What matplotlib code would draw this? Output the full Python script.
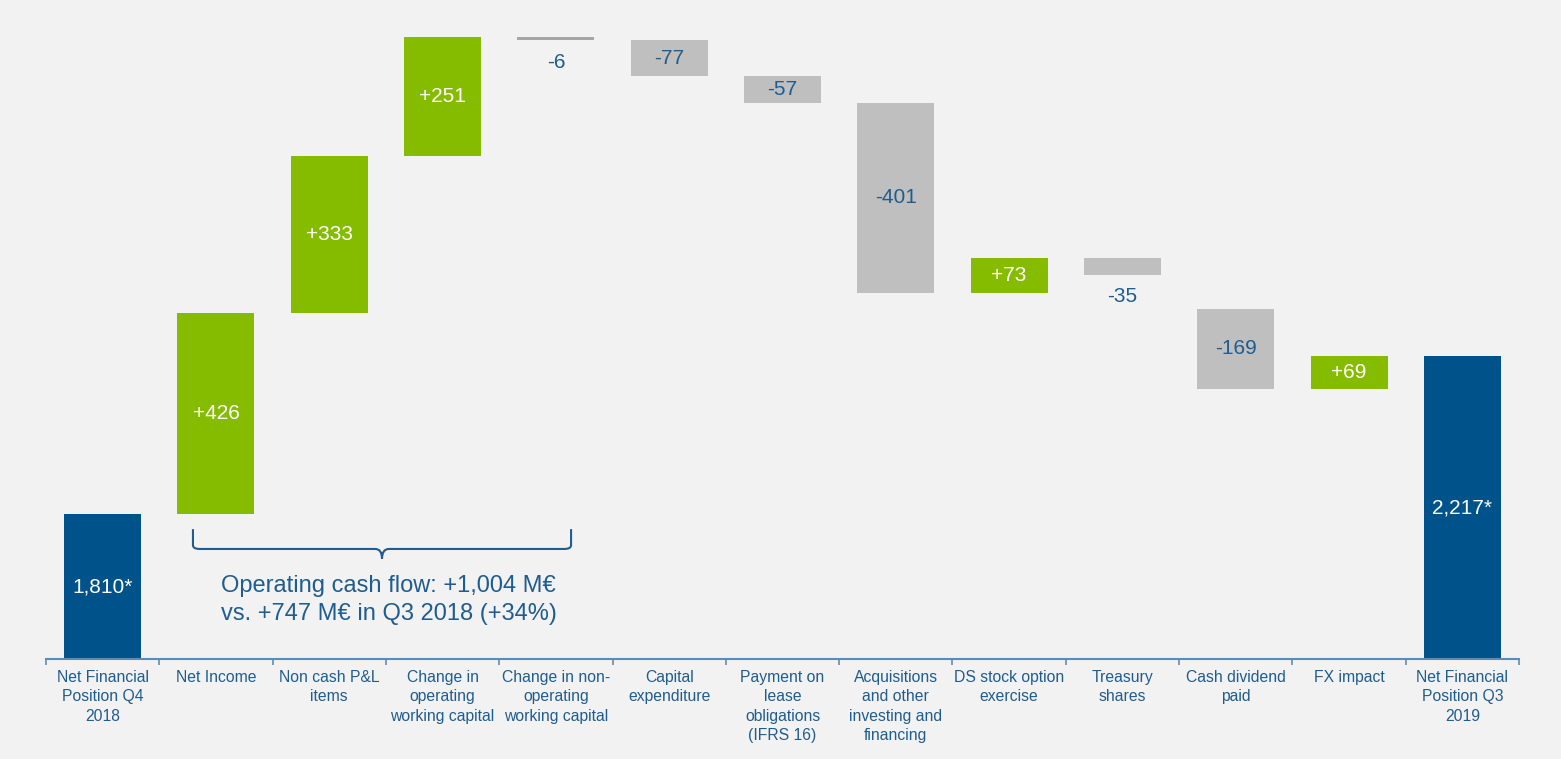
import numpy as np
import matplotlib.pyplot as plt
from matplotlib.path import Path
from matplotlib.patches import PathPatch

plt.rcParams['font.family'] = ['Liberation Sans', 'DejaVu Sans']

# data
categories = ["Net Financial\nPosition Q4\n2018", "Net Income", "Non cash P&L\nitems",
              "Change in\noperating\nworking capital", "Change in non-\noperating\nworking capital",
              "Capital\nexpenditure", "Payment on\nlease\nobligations\n(IFRS 16)",
              "Acquisitions\nand other\ninvesting and\nfinancing", "DS stock option\nexercise",
              "Treasury\nshares", "Cash dividend\npaid", "FX impact",
              "Net Financial\nPosition Q3\n2019"]
value_labels = ["1,810*", "+426", "+333", "+251", "-6", "-77", "-57", "-401",
                "+73", "-35", "-169", "+69", "2,217*"]
kinds = ["total", "up", "up", "up", "down", "down", "down", "down",
         "up", "down", "down", "up", "total"]
# running level (M€) before / after each step, as drawn on the slide
level_from = [None, 1810, 2236, 2569, 2820, 2814, 2737, 2680, 2279, 2352, 2244, 2075, None]
level_to = [1810, 2236, 2569, 2820, 2814, 2737, 2680, 2279, 2352, 2317, 2075, 2144, 2144]

ocf_text = "Operating cash flow: +1,004 M\u20ac\nvs. +747 M\u20ac in Q3 2018 (+34%)"

# styles
bg = '#f2f2f2'
blue = '#00538a'
green = '#86bc00'
grey = '#bfbfbf'
txt = '#1f5c8f'
axis_col = '#5b8cb8'
y_floor, y_top = 1503, 2856

fig = plt.figure(figsize=(15.61, 7.59), dpi=100, facecolor=bg)
ax = fig.add_axes([46 / 1561, 100 / 759, 1473 / 1561, 639 / 759])
ax.set_facecolor(bg)

x = np.arange(len(categories))
bar_w = 0.68
for i in x:
    lo = level_from[i] if level_from[i] is not None else y_floor
    hi = level_to[i]
    bottom, top = min(lo, hi), max(lo, hi)
    k = kinds[i]
    col = blue if k == "total" else (green if k == "up" else grey)
    if value_labels[i] == "-6":
        col = '#a6a6a6'
    ax.bar(i, top - bottom, bottom=bottom, width=bar_w, color=col, linewidth=0)
    tcol = txt if k == "down" else 'white'
    if top - bottom < 40:
        ax.annotate(value_labels[i], (i, bottom), xytext=(0, -16), textcoords='offset points',
                    ha='center', va='center', color=txt, fontsize=15)
    else:
        ax.text(i, (top + bottom) / 2, value_labels[i], ha='center', va='center',
                color=tcol, fontsize=15)

# brace under the operating cash flow items
bx0, bx1 = 0.797, 4.134
bxm = (bx0 + bx1) / 2
yt, yh, yp = 1778, 1736, 1715
r = 0.06
verts = [(bx0, yt), (bx0, yh + 8), (bx0, yh), (bx0 + r, yh), (bxm - r, yh), (bxm, yh), (bxm, yp),
         (bxm, yh), (bxm + r, yh), (bx1 - r, yh), (bx1, yh), (bx1, yh + 8), (bx1, yt)]
codes = [Path.MOVETO, Path.LINETO, Path.CURVE3, Path.CURVE3, Path.LINETO, Path.CURVE3, Path.CURVE3,
         Path.CURVE3, Path.CURVE3, Path.LINETO, Path.CURVE3, Path.CURVE3, Path.LINETO]
ax.add_patch(PathPatch(Path(verts, codes), fill=False, edgecolor=txt, lw=1.5))
ax.text(bxm + 0.06, 1628, ocf_text, ha='center', va='center', color=txt, fontsize=17,
        linespacing=1.35)

ax.set_xlim(-0.5, len(categories) - 0.5)
ax.set_ylim(y_floor, y_top)
for s in ['top', 'right', 'left']:
    ax.spines[s].set_visible(False)
ax.spines['bottom'].set_color(axis_col)
ax.spines['bottom'].set_linewidth(1.5)
ax.set_yticks([])
ax.set_xticks(x)
ax.set_xticklabels(categories, color=txt, fontsize=11.3, linespacing=1.35)
ax.tick_params(axis='x', which='major', length=0, pad=8)
ax.set_xticks(np.arange(len(categories) + 1) - 0.5, minor=True)
ax.tick_params(axis='x', which='minor', length=4, width=1.2, color=axis_col, direction='out')

plt.savefig('out.png', dpi=100, facecolor=bg)
